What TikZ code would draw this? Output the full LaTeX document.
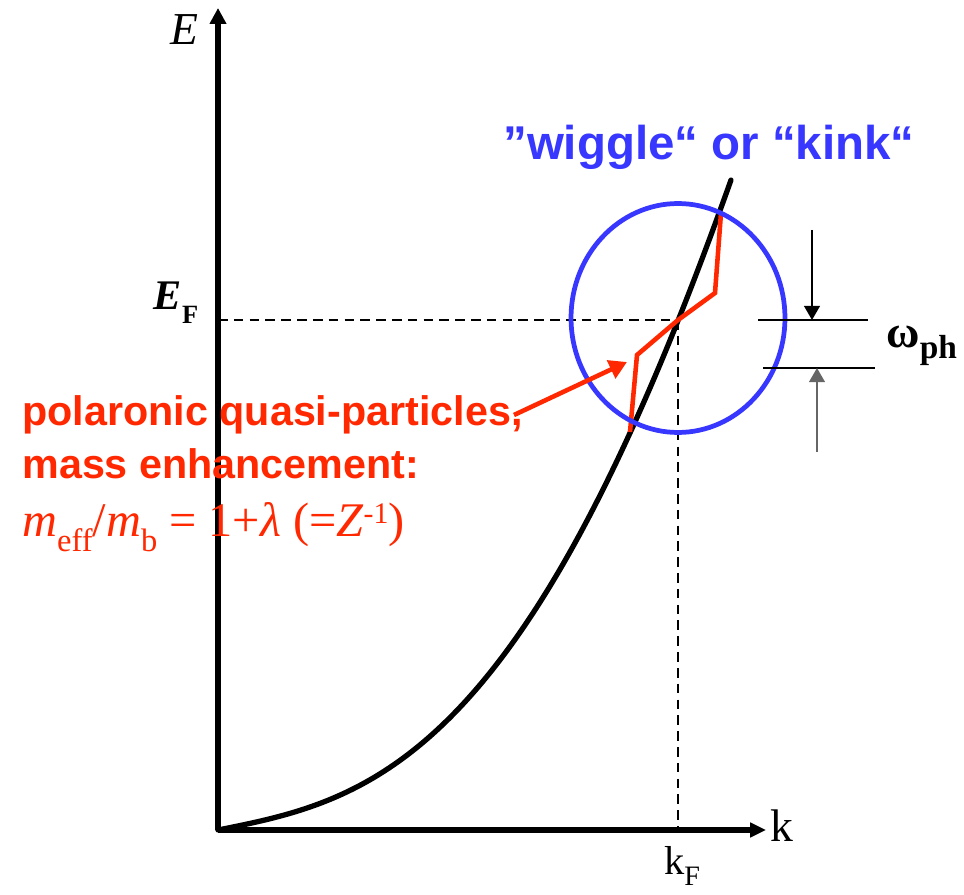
\documentclass[tikz,border=0pt]{standalone}
\usepackage{fontspec}
\setmainfont{Liberation Serif}
\newfontfamily\labelsans{Liberation Sans}
\usetikzlibrary{arrows.meta}
\tikzset{>=Stealth}

\begin{document}
\begin{tikzpicture}[x=0.02cm, y=-0.02cm]

% ---------------------------------------------------------------------------
% Color aliases
% ---------------------------------------------------------------------------
\definecolor{kinkBlue}{RGB}{55,55,255}
\definecolor{polRed}{RGB}{255,40,0}

\useasboundingbox (0,0) rectangle (964,895);

% ---------------------------------------------------------------------------
% Key points (pixel-like grid, y downwards)
% ---------------------------------------------------------------------------
\coordinate (O)      at (218,830);
\coordinate (Etop)   at (218,8);
\coordinate (kend)   at (766,830);
\coordinate (F)      at (678,320);
\coordinate (EFaxis) at (218,320);
\coordinate (kFaxis) at (678,830);

% ---------------------------------------------------------------------------
% Axes
% ---------------------------------------------------------------------------
\draw[line width=3.2pt, -{Triangle[length=9pt,width=9pt]}] (O) -- (Etop);
\draw[line width=3.2pt, -{Triangle[length=9pt,width=8pt]}] (O) -- (kend);

\node[font=\fontsize{26}{28}\selectfont\itshape] (Elbl) at (184,30) {E};
\node[font=\fontsize{26}{28}\selectfont] (klbl) at (782,826) {k};

% ---------------------------------------------------------------------------
% Fermi level and Fermi momentum
% ---------------------------------------------------------------------------
\draw[line width=1pt, dash pattern=on 5.5pt off 3.5pt] (EFaxis) -- (F);
\draw[line width=1pt, dash pattern=on 5.5pt off 3.5pt] (F) -- (kFaxis);

\node[font=\fontsize{24}{26}\selectfont\bfseries\itshape] (EFlbl) at (176,303)
    {E{\fontsize{15}{15}\selectfont\upshape\raisebox{-8pt}{F}}};
\node[font=\fontsize{23}{26}\selectfont] (kFlbl) at (682,866)
    {k{\fontsize{16}{16}\selectfont\raisebox{-6pt}{F}}};

% ===========================================================================
%  BARE BAND  -- smooth black dispersion (u = k/100)
% ===========================================================================
\draw[line width=3pt, line cap=round]
    plot[domain=0:5.13, samples=120, smooth]
    ({218+100*\x}, {830 - \x*(20 + 6.312*\x*\x - 0.44*\x*\x*\x)});

% ===========================================================================
%  RENORMALISED BAND  -- red kink around E_F
% ===========================================================================
\coordinate (kinkA) at (630,432);
\coordinate (kinkB) at (637,355);
\coordinate (kinkC) at (715,293);
\coordinate (kinkD) at (721,213);
\draw[polRed, line width=2.6pt, line join=miter]
    (kinkA) -- (kinkB) -- (F) -- (kinkC) -- (kinkD);

% Circle marking the wiggle
\draw[kinkBlue, line width=2.7pt] (678,318) ellipse [x radius=2.14cm, y radius=2.29cm];

\node[anchor=base west, inner sep=0pt, text=kinkBlue,
      font=\labelsans\fontsize{27}{30}\selectfont\bfseries]
    (wiggle) at (503,160) {”wiggle“ or “kink“};

% ---------------------------------------------------------------------------
% Phonon energy window
% ---------------------------------------------------------------------------
\coordinate (phTopL) at (758,320);
\coordinate (phTopR) at (868,320);
\coordinate (phBotL) at (763,368);
\coordinate (phBotR) at (875,368);
\coordinate (phTopArr) at (812,230);
\coordinate (phBotArr) at (817,452);

\draw[line width=1pt] (phTopL) -- (phTopR);
\draw[line width=1pt] (phBotL) -- (phBotR);
\draw[line width=0.9pt, -{Triangle[length=8pt,width=9pt]}] (phTopArr) -- (812,320);
\draw[line width=0.9pt, black!60, -{Triangle[length=8pt,width=9pt]}] (phBotArr) -- (817,368);

\node[anchor=west, inner sep=0pt, font=\fontsize{26}{28}\selectfont\bfseries] (omlbl) at (886,346)
    {ω{\fontsize{19}{19}\selectfont\raisebox{-6pt}{ph}}};

% ===========================================================================
%  ANNOTATION  -- polaronic quasi-particles
% ===========================================================================
\node[anchor=base west, inner sep=0pt, text=polRed,
      font=\labelsans\fontsize{23.5}{26}\selectfont\bfseries]
    (pol1) at (22,425) {polaronic quasi-particles,};
\node[anchor=base west, inner sep=0pt, text=polRed,
      font=\labelsans\fontsize{23.5}{26}\selectfont\bfseries]
    (pol2) at (22,478) {mass enhancement:};
\node[anchor=base west, inner sep=0pt, text=polRed, font=\fontsize{27.5}{30}\selectfont]
    (pol3) at (22,536)
    {\textit{m}{\fontsize{18.5}{19}\selectfont\raisebox{-9pt}{eff}}/\textit{m}{\fontsize{18.5}{19}\selectfont\raisebox{-9pt}{b}}
     = 1+\textit{λ} (=\textit{Z}{\fontsize{17}{17}\selectfont\raisebox{7pt}{-1}})};

\coordinate (polTail) at (514,415);
\coordinate (polTip)  at (627,362);
\draw[polRed, line width=2.6pt, -{Triangle[length=10pt,width=11pt]}] (polTail) -- (polTip);

\end{tikzpicture}
\end{document}
